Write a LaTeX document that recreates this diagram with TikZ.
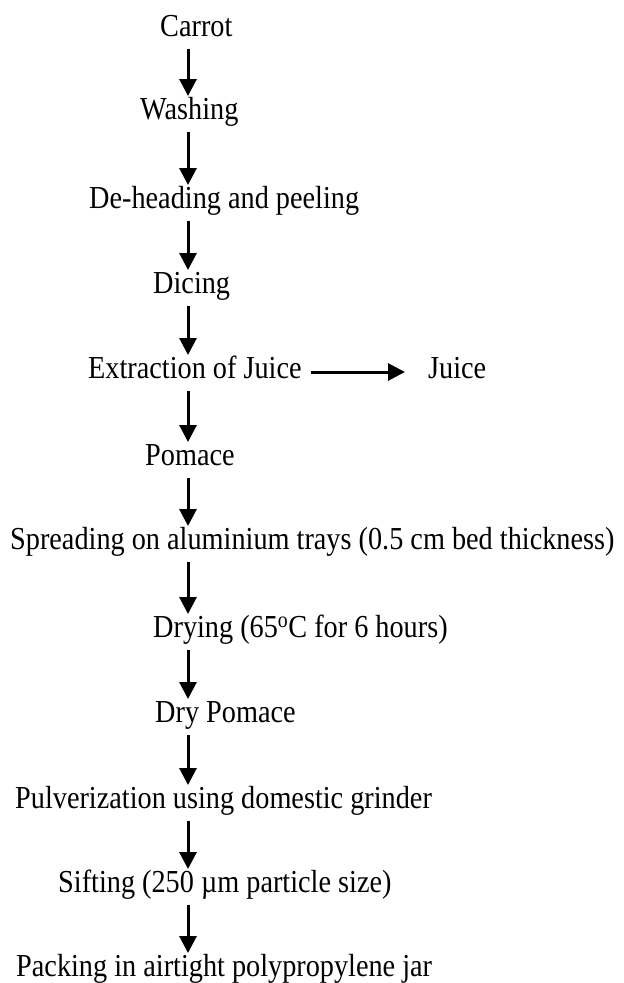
\documentclass[tikz,border=0pt]{standalone}
\usepackage{fontspec}
\setmainfont{Liberation Serif}[FakeStretch=0.883]
\usetikzlibrary{arrows.meta}
\begin{document}
\begin{tikzpicture}[x=1pt,y=-1pt,
  lbl/.style={anchor=base west,inner sep=0pt,font=\fontsize{32}{34}\selectfont},
  arr/.style={line width=3pt,-{Triangle[length=17pt,width=17pt]}}]
\useasboundingbox (0,0) rectangle (624,983);
\coordinate (ax) at (188,0);
\node[lbl] (n1) at (160,36) {Carrot};
\node[lbl] (n2) at (140,119) {Washing};
\node[lbl] (n3) at (89,208) {De-heading and peeling};
\node[lbl] (n4) at (153,293) {Dicing};
\node[lbl] (n5) at (88,378) {Extraction of Juice};
\node[lbl] (j) at (428,378) {Juice};
\node[lbl] (n6) at (145,465) {Pomace};
\node[lbl] (n7) at (10,549) {Spreading on aluminium trays (0.5 cm bed thickness)};
\node[lbl] (n8) at (153,637) {Drying (65\textsuperscript{o}C for 6 hours)};
\node[lbl] (n9) at (155,722) {Dry Pomace};
\node[lbl] (n10) at (15,808) {Pulverization using domestic grinder};
\node[lbl] (n11) at (58,892) {Sifting (250 µm particle size)};
\node[lbl] (n12) at (16,976) {Packing in airtight polypropylene jar};
\foreach \a/\b in {n1/n2,n2/n3,n3/n4,n4/n5,n5/n6,n6/n7,n7/n8,n8/n9,n9/n10,n10/n11,n11/n12}{
  \draw[arr] ([yshift=-13pt]\a.base -| ax) -- ([yshift=23pt]\b.base -| ax);
}
\draw[arr] ([xshift=9pt,yshift=6pt]n5.base east) -- ([xshift=-23pt,yshift=6pt]j.base west);
\end{tikzpicture}
\end{document}
